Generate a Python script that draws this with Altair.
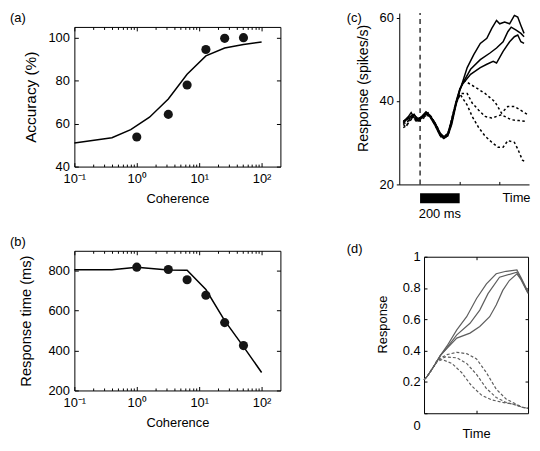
import altair as alt
import pandas as pd

FONT = "Liberation Sans"

panel_labels = ["(a)", "(b)", "(c)", "(d)"]

# ---------------- (a) accuracy ----------------
a_fit_coh = [0.1, 0.4, 0.8, 1.6, 3.2, 6.4, 12.8, 25.6, 51.2, 100]
a_fit_acc = [51.0, 53.4, 57.2, 63.0, 71.5, 83.0, 91.5, 95.2, 96.8, 98.0]
data_coh = [1, 3.2, 6.4, 12.8, 25.6, 51.2]
a_data_acc = [53.8, 64.3, 78.0, 94.5, 99.7, 100.0]
acc_ticks = [40, 60, 80, 100]

# ---------------- (b) response time ----------------
b_fit_coh = [0.1, 0.4, 1, 3.2, 6.4, 12.8, 25.6, 51.2, 100]
b_fit_rt = [805, 805, 818, 804, 802, 706, 550, 420, 290]
b_data_rt = [818, 806, 755, 677, 540, 425]
rt_ticks = [200, 400, 600, 800]

log_major = [0.1, 1, 10, 100]
log_minor = [0.2, 0.3, 0.4, 0.5, 0.6, 0.7, 0.8, 0.9,
             2, 3, 4, 5, 6, 7, 8, 9,
             20, 30, 40, 50, 60, 70, 80, 90]

# ---------------- (c) recorded responses ----------------
c_s1_t = [-85, -60, -45, -30, -10, 10, 30, 50, 75, 100, 120, 140, 160, 180, 200, 215,
          238, 271, 304, 337, 362, 386, 402, 427, 452, 476, 493, 509, 525]
c_s1_v = [35.0, 36.2, 37.2, 36.0, 35.6, 36.4, 37.4, 36.6, 34.6, 32.2, 31.2, 31.6, 34.4, 38.8, 42.4, 44.6,
          48.0, 51.1, 53.8, 55.0, 57.4, 59.3, 58.5, 58.9, 58.5, 60.5, 60.1, 58.1, 56.2]
c_s2_t = [-85, -65, -45, -30, -10, 10, 30, 50, 75, 100, 120, 140, 160, 180, 200, 215,
          255, 304, 353, 386, 419, 443, 460, 485, 509, 525]
c_s2_v = [34.6, 35.8, 36.4, 36.8, 35.2, 36.0, 36.9, 36.2, 34.2, 31.8, 31.0, 31.9, 35.0, 39.2, 42.6, 44.2,
          47.6, 49.9, 51.5, 52.7, 54.2, 56.6, 57.7, 57.0, 56.2, 55.4]
c_s3_t = [-85, -65, -45, -30, -10, 10, 30, 50, 75, 100, 120, 140, 160, 180, 200, 214,
          255, 304, 337, 369, 386, 419, 452, 476, 493, 509, 525]
c_s3_v = [35.2, 35.6, 36.0, 36.6, 35.8, 36.2, 37.0, 36.4, 34.8, 32.4, 31.4, 32.2, 35.6, 39.6, 42.8, 44.0,
          46.4, 48.0, 48.8, 49.5, 49.1, 51.9, 54.2, 55.4, 55.8, 54.2, 53.8]
c_d1_t = [-85, -70, -55, -40, -20, 0, 20, 40, 60, 85, 105, 125, 145, 165, 185, 205,
          222, 279, 328, 378, 411, 443, 476, 517, 545]
c_d1_v = [34.4, 33.8, 35.4, 36.2, 35.2, 35.6, 36.6, 37.2, 36.0, 33.8, 31.6, 31.0, 32.2, 36.0, 40.0, 43.4,
          44.9, 43.3, 41.8, 39.8, 37.1, 38.7, 38.7, 37.5, 36.7]
c_d2_t = [-85, -70, -55, -40, -20, 0, 20, 40, 60, 85, 105, 125, 145, 165, 185, 205,
          238, 263, 296, 328, 362, 411, 460, 500, 534]
c_d2_v = [33.6, 34.0, 35.0, 35.8, 35.6, 35.2, 36.0, 36.6, 35.6, 33.4, 31.4, 31.2, 32.6, 36.4, 39.8, 41.8,
          41.8, 39.5, 37.8, 36.3, 35.9, 36.7, 35.5, 35.3, 35.1]
c_d3_t = [-85, -70, -55, -40, -20, 0, 20, 40, 60, 85, 105, 125, 145, 165, 185, 205,
          238, 263, 296, 328, 362, 394, 419, 443, 476, 493, 517, 534]
c_d3_v = [34.8, 34.6, 35.6, 36.0, 35.4, 35.8, 36.2, 36.8, 35.8, 34.0, 31.8, 31.4, 32.8, 36.8, 40.2, 41.4,
          39.0, 36.3, 33.6, 31.6, 30.1, 28.9, 28.9, 30.5, 30.1, 28.5, 25.8, 25.4]
c_ticks_y = [20, 40, 60]
c_ticks_x = [200, 400]
c_y_min, c_y_max = 20, 61.07
onset = [0]
bar_start, bar_end = 0, 200
bar_text = "200 ms"

# ---------------- (d) model responses ----------------
d_s1_t = [0, 0.03, 0.095, 0.158, 0.221, 0.315, 0.41, 0.505, 0.6, 0.694, 0.789, 0.893, 0.931, 0.962, 1.0]
d_s1_v = [0.215, 0.235, 0.30, 0.37, 0.43, 0.533, 0.617, 0.733, 0.827, 0.891, 0.907, 0.916, 0.869, 0.827, 0.775]
d_s2_t = [0, 0.03, 0.095, 0.158, 0.221, 0.315, 0.442, 0.536, 0.615, 0.726, 0.893, 0.931, 0.962, 1.0]
d_s2_v = [0.215, 0.235, 0.30, 0.37, 0.42, 0.501, 0.575, 0.659, 0.764, 0.869, 0.901, 0.862, 0.82, 0.77]
d_s3_t = [0, 0.03, 0.095, 0.158, 0.221, 0.315, 0.442, 0.536, 0.631, 0.694, 0.757, 0.82, 0.893, 0.931, 0.962, 1.0]
d_s3_v = [0.215, 0.235, 0.30, 0.37, 0.415, 0.48, 0.512, 0.554, 0.617, 0.691, 0.785, 0.848, 0.891, 0.855, 0.815, 0.765]
d_d1_t = [0, 0.03, 0.095, 0.126, 0.221, 0.315, 0.41, 0.505, 0.6, 0.694, 0.789, 0.883, 0.946, 1.0]
d_d1_v = [0.215, 0.235, 0.30, 0.34, 0.375, 0.389, 0.381, 0.347, 0.259, 0.154, 0.091, 0.059, 0.038, 0.032]
d_d2_t = [0, 0.03, 0.095, 0.126, 0.205, 0.315, 0.41, 0.505, 0.6, 0.694, 0.789, 0.883, 0.946, 1.0]
d_d2_v = [0.215, 0.235, 0.30, 0.335, 0.36, 0.354, 0.318, 0.248, 0.158, 0.101, 0.069, 0.053, 0.038, 0.032]
d_d3_t = [0, 0.03, 0.095, 0.126, 0.174, 0.268, 0.363, 0.457, 0.552, 0.647, 0.757, 0.852, 0.946, 1.0]
d_d3_v = [0.215, 0.235, 0.30, 0.33, 0.343, 0.318, 0.259, 0.175, 0.116, 0.086, 0.069, 0.059, 0.038, 0.032]
d_ticks_y = [0, 0.2, 0.4, 0.6, 0.8, 1]
d_ticks_y_right = [0.2, 0.4, 0.6, 0.8]
d_ticks_x = [0.5]


def long_df(ts, vs, names):
    rows = []
    for t, v, n in zip(ts, vs, names):
        for ti, vi in zip(t, v):
            rows.append({"t": ti, "v": vi, "s": n})
    return pd.DataFrame(rows)


def inward(orient, values, size=4, **kw):
    return alt.Axis(orient=orient, values=values, tickSize=size, offset=-size,
                    domain=False, grid=False, **kw)


def label_layer(text, dx, dy):
    return alt.Chart(pd.DataFrame({"lab": [text]})).mark_text(
        font=FONT, fontSize=13, align="left", baseline="alphabetic", color="black"
    ).encode(text="lab:N", x=alt.value(dx), y=alt.value(dy))


def frame(x1, x2, y1, y2):
    # invisible layout box: fixes the cell's extent in the concat flow layout
    return alt.Chart(pd.DataFrame({"z": [0]})).mark_rect(opacity=0).encode(
        x=alt.value(x1), x2=alt.value(x2), y=alt.value(y1), y2=alt.value(y2))


EXP = ("datum.value < 0.5 ? '10\u207b\u00b9' : datum.value < 5 ? '10\u2070' : "
       "datum.value < 50 ? '10\u00b9' : '10\u00b2'")


def log_panel(fx, fy, dy, ydom, yvals, ytitle, ytitle_size, label, title_x, lab_dy, fr):
    xs = alt.Scale(type="log", domain=[0.1, 200], nice=False)
    ys = alt.Scale(domain=ydom, nice=False, zero=False)
    fit = pd.DataFrame({"c": fx, "v": fy})
    pts = pd.DataFrame({"c": data_coh, "v": dy})
    l1 = alt.Chart(fit).mark_line(color="black", strokeWidth=1.5).encode(
        x=alt.X("c:Q", scale=xs, axis=inward("bottom", log_major, labelExpr=EXP, labelPadding=6.5,
                                              labelFlush=False, title="Coherence", titlePadding=6.5)),
        y=alt.Y("v:Q", scale=ys, axis=inward("left", yvals, labelPadding=5, title=ytitle,
                                              titleFontSize=ytitle_size,
                                              titleX=title_x, titleBaseline="middle")),
    )
    l2 = alt.Chart(pts).mark_circle(size=85, color="#151515", opacity=1).encode(
        x=alt.X("c:Q", scale=xs, axis=inward("top", log_major, labels=False, title=None)),
        y=alt.Y("v:Q", scale=ys, axis=inward("right", yvals, labels=False, title=None)),
    )
    l3 = alt.Chart(fit).mark_line(opacity=0).encode(
        x=alt.X("c:Q", scale=xs, axis=inward("bottom", log_minor, size=2.5, labels=False, title=None)),
        y=alt.Y("v:Q", scale=ys, axis=None),
    )
    l4 = alt.Chart(fit).mark_line(opacity=0).encode(
        x=alt.X("c:Q", scale=xs, axis=inward("top", log_minor, size=2.5, labels=False, title=None)),
        y=alt.Y("v:Q", scale=ys, axis=None),
    )
    l5 = label_layer(label, -65, lab_dy)
    return alt.layer(l1, l2, l3, l4, l5, frame(*fr)).resolve_axis(
        x="independent", y="independent").properties(width=208, height=141)


# plot origins (page px): a (74,24)  b (74,248)  c (400,24)  d (425,254)
panel_a = log_panel(a_fit_coh, a_fit_acc, a_data_acc, [40, 105], acc_ticks, "Accuracy (%)", 15.5,
                    panel_labels[0], -48, -5, (-66, 258, -16, 202))
panel_b = log_panel(b_fit_coh, b_fit_rt, b_data_rt, [200, 900], rt_ticks, "Response time (ms)", 14.8,
                    panel_labels[1], -52, -5, (-66, 258, -22, 198))

# ---------------- (c) ----------------
XC = alt.Scale(domain=[-105, 550], nice=False, zero=False)
YC = alt.Scale(domain=[c_y_min, c_y_max], range=[159, -14], nice=False, zero=False)
c_solid_df = long_df([c_s1_t, c_s2_t, c_s3_t], [c_s1_v, c_s2_v, c_s3_v], ["s1", "s2", "s3"])
c_dash_df = long_df([c_d1_t, c_d2_t, c_d3_t], [c_d1_v, c_d2_v, c_d3_v], ["d1", "d2", "d3"])

c1 = alt.Chart(c_solid_df).mark_line(color="black", strokeWidth=1.5).encode(
    x=alt.X("t:Q", scale=XC, axis=alt.Axis(orient="bottom", values=c_ticks_x, ticks=False, labels=False,
                                           domain=True, grid=False, title="Time", titleAnchor="end",
                                           titleAlign="right", titleX=132, titlePadding=7)),
    y=alt.Y("v:Q", scale=YC, axis=alt.Axis(orient="left", values=c_ticks_y, tickSize=3, labelPadding=3,
                                           grid=False, title="Response (spikes/s)", titleFontSize=14.2,
                                           titleX=-36.5, titleY=61.5, titleBaseline="middle")),
    detail="s:N",
)
c2 = alt.Chart(c_dash_df).mark_line(color="black", strokeWidth=1.5, strokeDash=[2.5, 2.5]).encode(
    x=alt.X("t:Q", scale=XC, axis=inward("bottom", c_ticks_x, size=3, labels=False, title=None)),
    y=alt.Y("v:Q", scale=YC, axis=None),
    detail="s:N",
)
c3 = alt.Chart(pd.DataFrame({"t": onset, "y0": [c_y_min], "y1": [c_y_max]})).mark_rule(
    color="black", strokeWidth=1.2, strokeDash=[5, 4]).encode(
    x=alt.X("t:Q", scale=XC, axis=None),
    y=alt.Y("y0:Q", scale=YC, axis=None), y2="y1:Q")
c4 = alt.Chart(pd.DataFrame({"b0": [bar_start], "b1": [bar_end]})).mark_rect(color="black").encode(
    x=alt.X("b0:Q", scale=XC, axis=None), x2="b1:Q", y=alt.value(168), y2=alt.value(178))
c5 = alt.Chart(pd.DataFrame({"m": [(bar_start + bar_end) / 2], "s": [bar_text]})).mark_text(
    font=FONT, fontSize=13, align="center", baseline="alphabetic", color="black").encode(
    x=alt.X("m:Q", scale=XC, axis=None), y=alt.value(193), text="s:N")
c6 = label_layer(panel_labels[2], -53, -5)
panel_c = alt.layer(c1, c2, c3, c4, c5, c6, frame(-68, 132, -16, 202)).resolve_axis(
    x="independent", y="independent").properties(
    width=131, height=159, view=alt.ViewBackground(stroke="transparent"))

# ---------------- (d) ----------------
XD = alt.Scale(domain=[0, 1], nice=False, zero=False)
YD = alt.Scale(domain=[0, 1], nice=False, zero=False)
d_solid_df = long_df([d_s1_t, d_s2_t, d_s3_t], [d_s1_v, d_s2_v, d_s3_v], ["s1", "s2", "s3"])
d_dash_df = long_df([d_d1_t, d_d2_t, d_d3_t], [d_d1_v, d_d2_v, d_d3_v], ["d1", "d2", "d3"])
D_LAB = "datum.value == 0 ? '0' : datum.value == 1 ? '1' : format(datum.value, '.1f')"

d1 = alt.Chart(d_solid_df).mark_line(color="#5e5e5e", strokeWidth=1.2).encode(
    x=alt.X("t:Q", scale=XD, axis=inward("bottom", d_ticks_x, size=3, labels=False, title="Time",
                                          titlePadding=14)),
    y=alt.Y("v:Q", scale=YD, axis=inward("left", d_ticks_y, size=3, labelExpr=D_LAB, labelPadding=4,
                                          labelOffset={"condition": {"test": "datum.value === 0", "value": 12},
                                                       "value": 0},
                                          title="Response", titleX=-45, titleY=68, titleBaseline="middle")),
    detail="s:N",
)
d2 = alt.Chart(d_dash_df).mark_line(color="#5e5e5e", strokeWidth=1.2, strokeDash=[3, 2]).encode(
    x=alt.X("t:Q", scale=XD, axis=inward("top", d_ticks_x, size=3, labels=False, title=None)),
    y=alt.Y("v:Q", scale=YD, axis=inward("right", d_ticks_y_right, size=3, labels=False, title=None)),
    detail="s:N",
)
d3 = label_layer(panel_labels[3], -78, -4)
panel_d = alt.layer(d1, d2, d3, frame(-93, 107, -28, 192)).resolve_axis(
    x="independent", y="independent").properties(width=105, height=158)

chart = alt.concat(panel_a, panel_c, panel_b, panel_d, columns=2, spacing=0, align="none").properties(
    padding=0
).configure_view(stroke="black", strokeWidth=1).configure_axis(
    labelFont=FONT, titleFont=FONT, labelFontSize=13, titleFontSize=13, titleFontWeight="normal",
    labelColor="black", titleColor="black", tickColor="black", domainColor="black",
    tickWidth=1, domainWidth=1,
)

chart.save("out.html", embed_options={"renderer": "svg", "actions": False})
